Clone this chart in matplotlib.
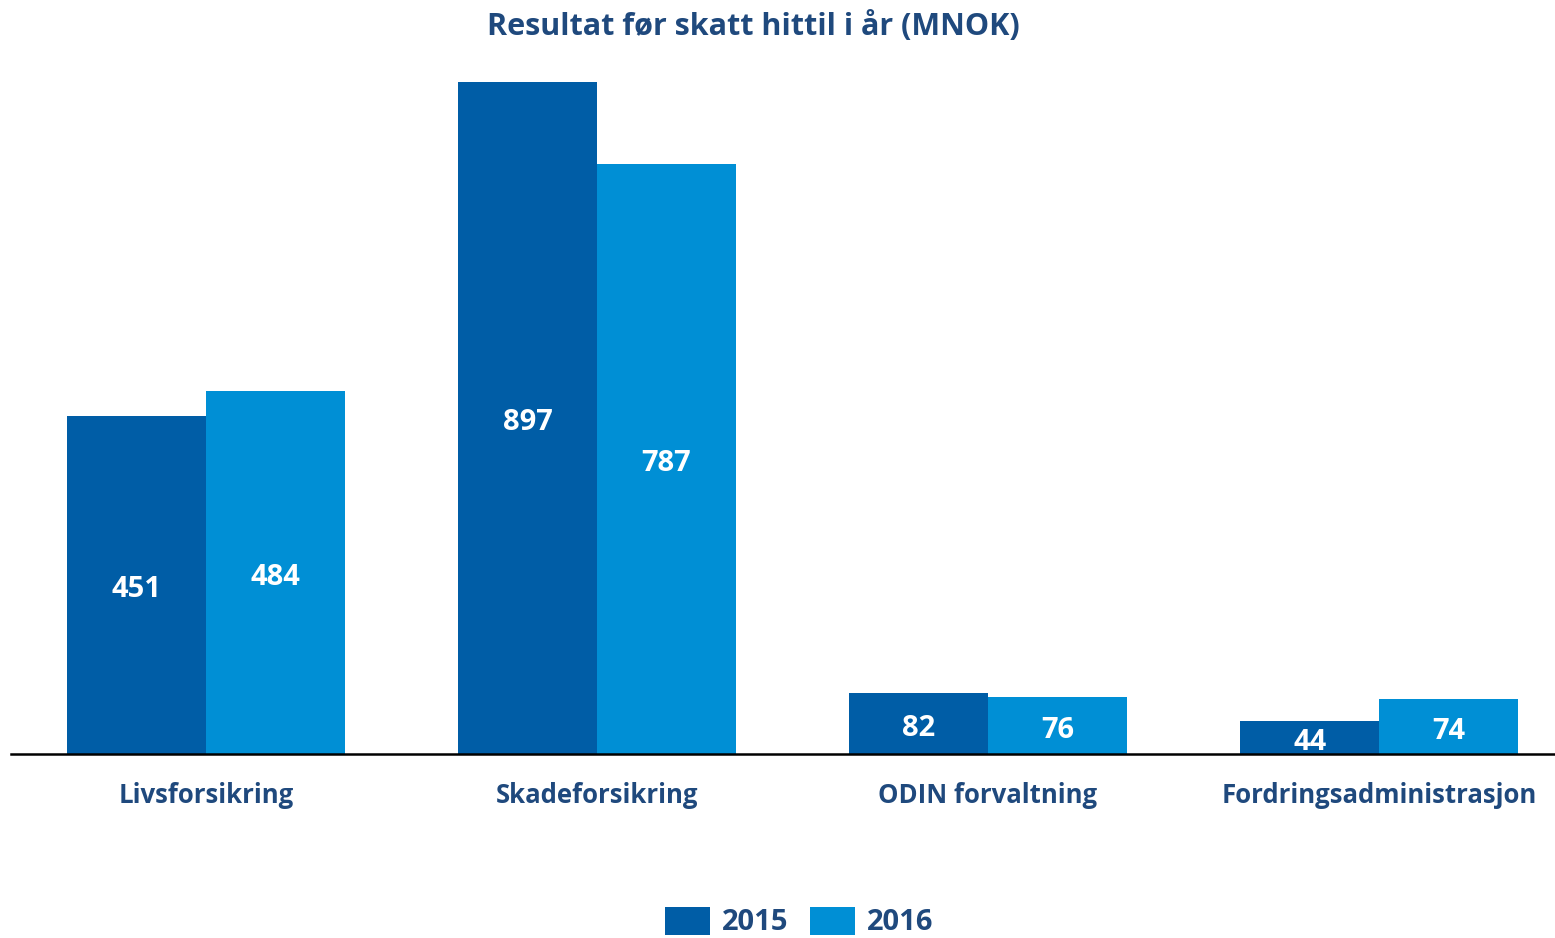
import numpy as np
import matplotlib
matplotlib.use("Agg")
import matplotlib.pyplot as plt

# Data
categories = ["Livsforsikring", "Skadeforsikring", "ODIN forvaltning", "Fordringsadministrasjon"]
years = ["2015", "2016"]
values_2015 = [451, 897, 82, 44]
values_2016 = [484, 787, 76, 74]

# Colors
col_2015 = "#005DA6"
col_2016 = "#008FD5"
text_col = "#1F497D"

plt.rcParams['font.family'] = ['Open Sans', 'DejaVu Sans']
plt.rcParams['font.weight'] = 'bold'

W, H = 1555, 938
fig = plt.figure(figsize=(W / 100, H / 100), dpi=100)

# axes placed to match the reference plot area
left_px, right_px = 10.5, 1555
base_px, top_px = 754, 42
ax = fig.add_axes([left_px / W, (H - base_px) / H,
                   (right_px - left_px) / W, (base_px - top_px) / H])

x = np.arange(len(categories))
bw = 0.355
b1 = ax.bar(x - bw / 2, values_2015, bw, color=col_2015, label=years[0])
b2 = ax.bar(x + bw / 2, values_2016, bw, color=col_2016, label=years[1])

ax.set_xlim(-0.5, 3.45)
ax.set_ylim(0, 950)

for bars in (b1, b2):
    labels = ax.bar_label(bars, label_type='center', color='white',
                          fontsize=21, fontweight='bold')
    # nudge labels down a little, like the original
    for t in labels:
        t.xyann = (0, -3.5)

ax.set_xticks(x)
ax.set_xticklabels(categories, color=text_col, fontsize=18.5, fontweight='bold')
ax.tick_params(axis='x', length=0, pad=20)
ax.set_yticks([])
for s in ['top', 'right', 'left']:
    ax.spines[s].set_visible(False)
ax.spines['bottom'].set_linewidth(1.8)
ax.spines['bottom'].set_color('black')

fig.text(753 / W, 1 - 26 / H, "Resultat før skatt hittil i år (MNOK)",
         ha='center', va='center', color=text_col, fontsize=22, fontweight='bold')

fig.legend(loc='center', bbox_to_anchor=(799 / W, (H - 922) / H),
           ncol=2, frameon=False, fontsize=21,
           handlelength=1.54, handleheight=1.1, handletextpad=0.4,
           columnspacing=0.75, labelcolor=text_col)

fig.savefig("out.png", dpi=100)
